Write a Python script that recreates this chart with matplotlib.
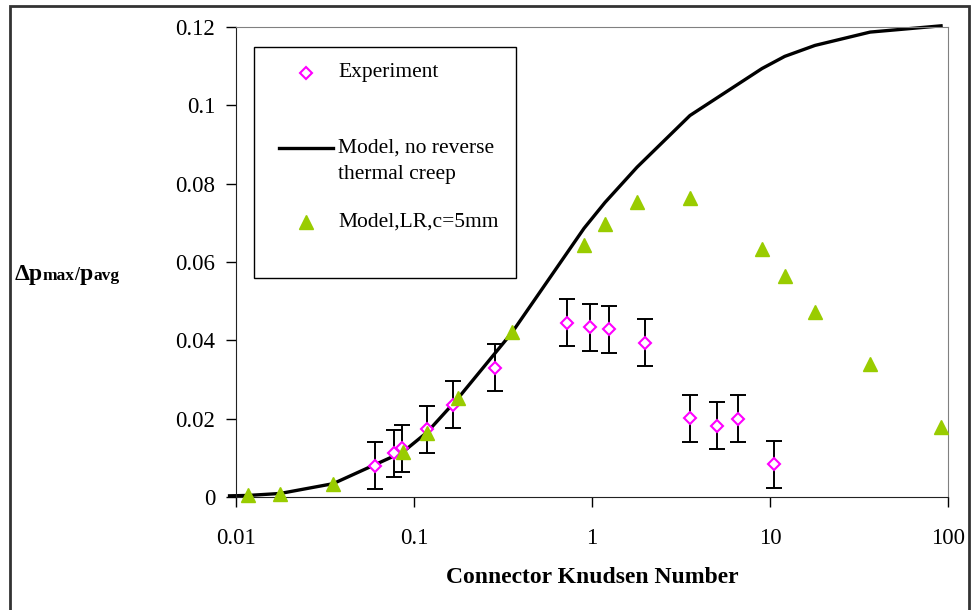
import matplotlib
matplotlib.use('Agg')
import matplotlib.pyplot as plt
from matplotlib.patches import Rectangle
from matplotlib.lines import Line2D

plt.rcParams['font.family'] = ['Liberation Serif', 'DejaVu Serif']

# model curve without reverse thermal creep
kn_model = [0.0092, 0.0117, 0.0177, 0.0351, 0.0867, 0.1183, 0.1767, 0.3554, 0.902,
            1.183, 1.790, 3.55, 9.02, 12.1, 17.9, 36.5, 91.4]
dp_model = [0.0003, 0.0004, 0.0009, 0.0034, 0.0115, 0.0165, 0.0252, 0.0420, 0.0686,
            0.0752, 0.0842, 0.0974, 0.1094, 0.1125, 0.1153, 0.1187, 0.1203]

# model with LR, c = 5 mm
kn_lr = [0.0117, 0.0177, 0.0351, 0.0867, 0.1183, 0.1767, 0.3554, 0.902,
         1.183, 1.790, 3.55, 9.02, 12.1, 17.9, 36.5, 91.4]
dp_lr = [0.0004, 0.0008, 0.0033, 0.0115, 0.0163, 0.0253, 0.0421, 0.0643,
         0.0697, 0.0753, 0.0763, 0.0633, 0.0564, 0.0472, 0.0339, 0.0179]

# measurements
kn_exp = [0.0604, 0.0772, 0.0857, 0.1183, 0.1656, 0.285, 0.724, 0.975,
          1.247, 1.985, 3.55, 5.04, 6.61, 10.5]
dp_exp = [0.0080, 0.0112, 0.0124, 0.0173, 0.0235, 0.0330, 0.0445, 0.0434,
          0.0428, 0.0394, 0.0201, 0.0182, 0.0200, 0.0084]
dp_err = [0.006] * len(kn_exp)

xticks = [0.01, 0.1, 1, 10, 100]
xtick_labels = ['0.01', '0.1', '1', '10', '100']
yticks = [0, 0.02, 0.04, 0.06, 0.08, 0.1, 0.12]
ytick_labels = ['0', '0.02', '0.04', '0.06', '0.08', '0.1', '0.12']

W, H = 972, 610
fig = plt.figure(figsize=(W / 100, H / 100), dpi=100)


def fx(px):
    return px / W


def fy(py):
    return 1 - py / H


ax = fig.add_axes([fx(236), fy(497), (948 - 236) / W, (497 - 27) / H])

ax.plot(kn_model, dp_model, color='black', lw=2.4, zorder=2, clip_on=False)
ax.errorbar(kn_exp, dp_exp, yerr=dp_err, fmt='none', ecolor='black',
            elinewidth=1.4, capsize=5.5, capthick=1.4, zorder=3)
ax.plot(kn_exp, dp_exp, ls='none', marker='D', ms=6.2, mfc='white',
        mec='#ff00ff', mew=1.5, zorder=4)
ax.plot(kn_lr, dp_lr, ls='none', marker='^', ms=10, color='#99cc00',
        mec='#99cc00', zorder=5, clip_on=False)

ax.set_xscale('log')
ax.set_xlim(0.01, 100)
ax.set_ylim(0, 0.12)
ax.set_xticks(xticks, xtick_labels)
ax.xaxis.set_minor_locator(matplotlib.ticker.NullLocator())
ax.set_yticks(yticks, ytick_labels)
ax.tick_params(axis='both', direction='out', labelsize=16.5, colors='black')
ax.tick_params(axis='x', length=7, width=1, pad=15)
ax.tick_params(axis='y', length=7, width=1, pad=8)

for s in ['top', 'right']:
    ax.spines[s].set_color('#808080')
for s in ['left', 'bottom']:
    ax.spines[s].set_color('#222222')

ax.set_xlabel('Connector Knudsen Number', fontsize=17, fontweight='bold', labelpad=13)

# y label with small, non-lowered subscripts
renderer = fig.canvas.get_renderer()
pieces = [('Δp', 17, -1), ('max', 12.5, 0), ('/', 13, 1), ('p', 17, 0), ('avg', 12.5, 0)]
x = fx(15)
for txt, size, kern in pieces:
    t = fig.text(x, fy(280), txt, fontsize=size, fontweight='bold', va='baseline', ha='left')
    bb = t.get_window_extent(renderer)
    x += (bb.width + kern) / W

# legend box
fig.add_artist(Rectangle((fx(254), fy(278)), (516 - 254) / W, (278 - 47) / H,
                         transform=fig.transFigure, fc='white', ec='black', lw=1, zorder=10))
fig.add_artist(Line2D([fx(305.5)], [fy(73)], transform=fig.transFigure, ls='none',
                      marker='D', ms=6.2, mfc='white', mec='#ff00ff', mew=1.5, zorder=11))
fig.add_artist(Line2D([fx(279), fx(333)], [fy(148), fy(148)], transform=fig.transFigure,
                      color='black', lw=2.4, zorder=11))
fig.add_artist(Line2D([fx(305.5)], [fy(222)], transform=fig.transFigure, ls='none',
                      marker='^', ms=10, color='#99cc00', zorder=11))
legend_font = 15.5
fig.text(fx(338), fy(72), 'Experiment', fontsize=legend_font, va='center', zorder=12)
fig.text(fx(338), fy(148), 'Model, no reverse', fontsize=legend_font, va='center', zorder=12)
fig.text(fx(338), fy(174), 'thermal creep', fontsize=legend_font, va='center', zorder=12)
fig.text(fx(338), fy(222), 'Model,LR,c=5mm', fontsize=legend_font, va='center', zorder=12)

# outer frame
fig.add_artist(Rectangle((fx(10), -0.05), (969 - 10) / W, fy(6) + 0.05,
                         transform=fig.transFigure, fill=False, ec='#333333', lw=2))

fig.savefig('out.png', dpi=100)
